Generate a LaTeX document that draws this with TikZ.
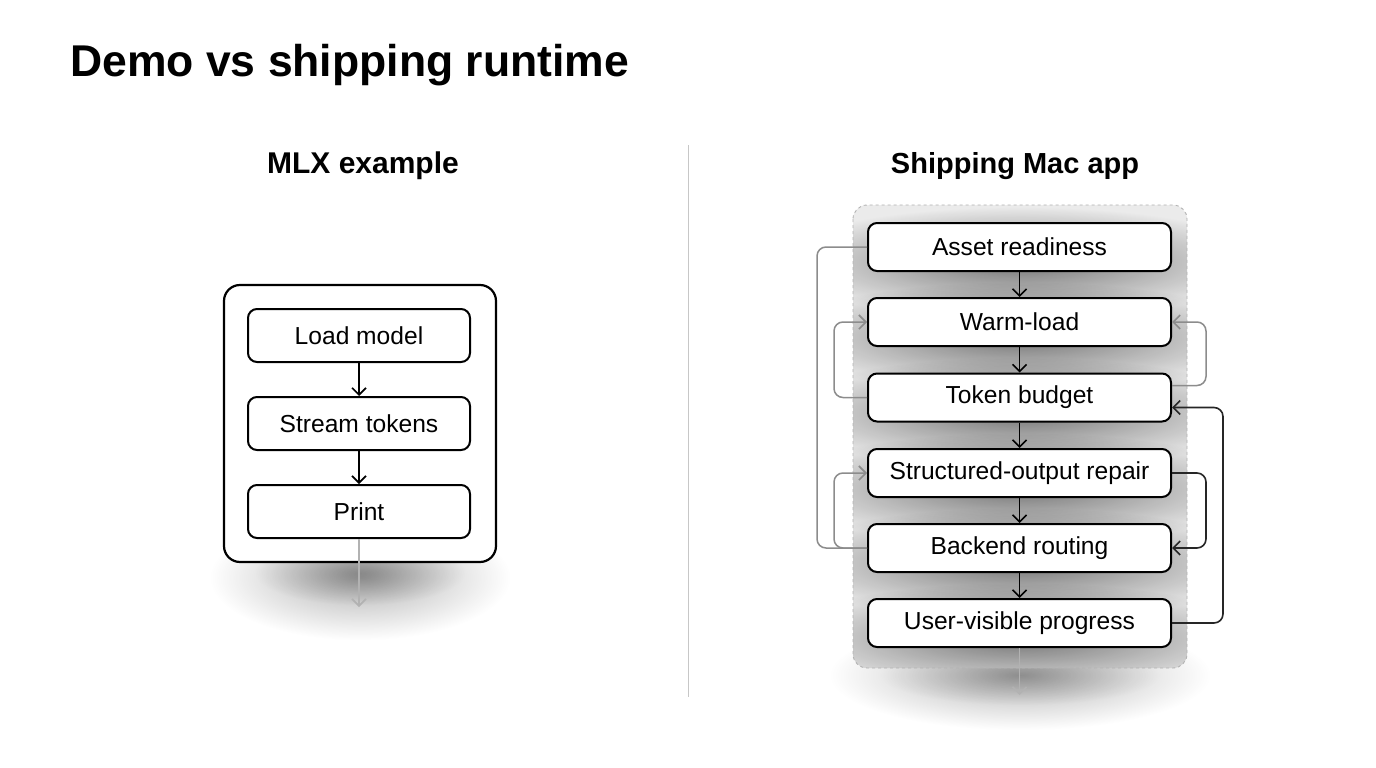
\documentclass[tikz,border=0pt]{standalone}
\usepackage{fontspec}
\setmainfont{Liberation Sans}
\usetikzlibrary{arrows.meta,calc,fadings}
\tikzfading[name=blob, inner color=transparent!0, outer color=transparent!100]
\begin{document}
\begin{tikzpicture}[x=1pt,y=-1pt,
  stepbox/.style={draw=black,line width=2pt,rounded corners=9pt,fill=white,font=\fontsize{24.6}{27}\selectfont,inner sep=0pt},
  lbox/.style={stepbox,minimum width=222pt,minimum height=53pt},
  rbox/.style={stepbox,minimum width=303pt,minimum height=48pt},
  tip/.style={-{Straight Barb[length=7pt,width=14pt,line width=1.6pt]}},
  flow/.style={draw=black,line width=1.6pt,tip},
  graycon/.style={draw=black!45,line width=1.5pt,rounded corners=9pt},
  blackcon/.style={draw=black!85,line width=1.6pt,rounded corners=9pt},
  softsh/.style={fill=black,path fading=blob}
]
\useasboundingbox (0,0) rectangle (1376,768);
\fill[white] (0,0) rectangle (1376,768);

% title
\node[anchor=base west,inner sep=0pt,font=\bfseries\fontsize{44.5}{48}\selectfont] (title) at (70,77) {Demo vs shipping runtime};
\node[anchor=base,inner sep=0pt,font=\bfseries\fontsize{30}{32}\selectfont] (lt) at (363,173) {MLX example};
\node[anchor=base,inner sep=0pt,font=\bfseries\fontsize{29}{32}\selectfont] (rt) at (1015,173) {Shipping Mac app};

% divider
\coordinate (d1) at (688,145);
\coordinate (d2) at (688,697);
\draw[black!22,line width=1pt] (d1) -- (d2);

% ---- left panel ----
\fill[softsh,opacity=0.3] (210,515) rectangle (510,640);
\fill[softsh,opacity=0.25] (255,540) rectangle (465,605);
\draw[line width=2.2pt,rounded corners=16pt,fill=white] (224,285) rectangle (496,562);
\node[lbox] (lm) at (359,335.5) {Load model};
\node[lbox] (st) at (359,423.5) {Stream tokens};
\node[lbox] (pr) at (359,511.5) {Print};
\draw[flow] (lm) -- (st);
\draw[flow] (st) -- (pr);
\coordinate (lend) at (359,607);
\draw[draw=black!30,line width=1.5pt,tip] (pr) -- (lend);

% ---- right panel ----
\fill[softsh,opacity=0.3] (830,620) rectangle (1210,730);
\fill[softsh,opacity=0.2] (880,645) rectangle (1160,705);
\fill[black!8,rounded corners=14pt] (853,205) rectangle (1187,668);
\begin{scope}
  \clip[rounded corners=14pt] (853,205) rectangle (1187,668);
  \foreach \yc in {247,322,397.5,473,548,623}{
    \fill[softsh,opacity=0.5] (770,\yc-40) rectangle (1270,\yc+70);
  }
\end{scope}
\draw[black!30,dashed,line width=0.9pt,rounded corners=14pt] (853,205) rectangle (1187,668);

\node[rbox] (ar) at (1019.5,247) {Asset readiness};
\node[rbox] (wl) at (1019.5,322) {Warm-load};
\node[rbox] (tb) at (1019.5,397.5) {Token budget};
\node[rbox] (so) at (1019.5,473) {Structured-output repair};
\node[rbox] (br) at (1019.5,548) {Backend routing};
\node[rbox] (uv) at (1019.5,623) {User-visible progress};

\draw[flow] (ar) -- (wl);
\draw[flow] (wl) -- (tb);
\draw[flow] (tb) -- (so);
\draw[flow] (so) -- (br);
\draw[flow] (br) -- (uv);
\coordinate (rend) at (1019.5,695);
\draw[draw=black!30,line width=1.5pt,tip] (uv) -- (rend);

% left-side loops
\draw[graycon] (ar.west) -- ++(-50,0) |- (br.west);
\draw[graycon,tip] (br.west) -- ++(-33,0) |- (so.west);
\draw[graycon,tip] (tb.west) -- ++(-33,0) |- (wl.west);
% right-side loops
\draw[graycon,tip] ([yshift=12pt]tb.east) -- ++(34,0) |- (wl.east);
\draw[blackcon,tip] (so.east) -- ++(34,0) |- (br.east);
\draw[blackcon,tip] (uv.east) -- ++(51,0) |- ([yshift=-10pt]tb.east);
\end{tikzpicture}
\end{document}
